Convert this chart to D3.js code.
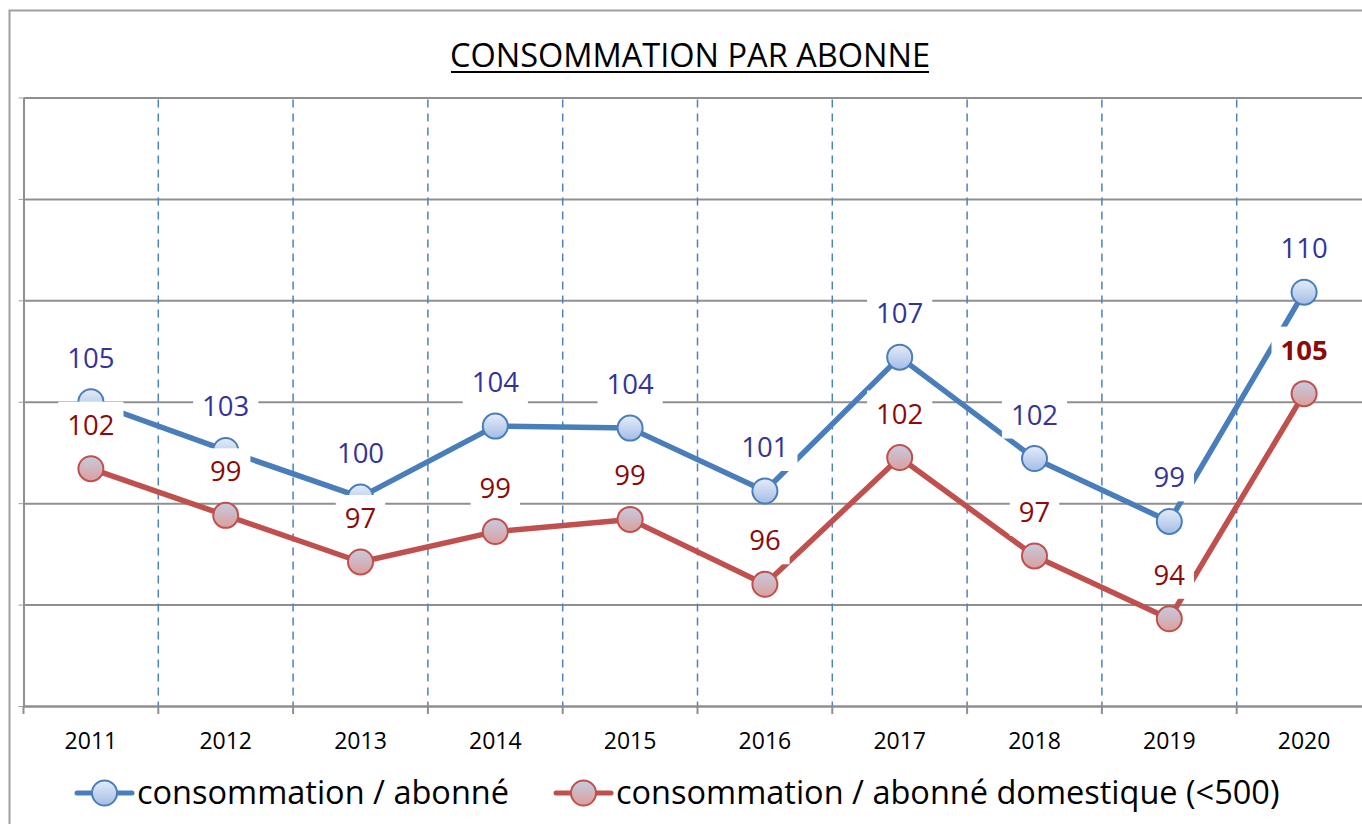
<!DOCTYPE html>
<html>
<head>
<meta charset="utf-8">
<title>Consommation par abonné</title>
<script src="https://cdn.jsdelivr.net/npm/d3@7"></script>
<style>
  body { margin: 0; background: #fff; }
  text { font-family: "Open Sans", sans-serif; }
</style>
</head>
<body>
<script>
// data (labels show the rounded value)
var years = ["2011", "2012", "2013", "2014", "2015", "2016", "2017", "2018", "2019", "2020"];
var consoAbonne = [105.0, 102.6, 100.3, 103.8, 103.7, 100.6, 107.2, 102.2, 99.1, 110.4];
var consoDomestique = [101.7, 99.4, 97.1, 98.6, 99.2, 96.0, 102.25, 97.4, 94.3, 105.4];
var yTicks = [90, 95, 100, 105, 110, 115, 120];
var seriesNames = ["consommation / abonné", "consommation / abonné domestique (<500)"];

var W = 1362, H = 824;
var plotL = 23.5, plotR = 1371.5, plotT = 97.5, plotB = 706;

var svg = d3.select("body").append("svg")
    .attr("width", W)
    .attr("height", H);

var defs = svg.append("defs");
function grad(id, c1, c2) {
  var g = defs.append("linearGradient").attr("id", id)
      .attr("x1", 0).attr("y1", 0).attr("x2", 0).attr("y2", 1);
  g.append("stop").attr("offset", "0%").attr("stop-color", c1);
  g.append("stop").attr("offset", "100%").attr("stop-color", c2);
}
grad("gBlue", "#e4ecf8", "#a3bde6");
grad("gRed", "#c6cbe0", "#dc9e9c");

var series = [
  { name: seriesNames[0], values: consoAbonne, line: "#4a7ebb", fill: "url(#gBlue)", label: "#33339a", bold: [] },
  { name: seriesNames[1], values: consoDomestique, line: "#c0504d", fill: "url(#gRed)", label: "#8b0a0a", bold: ["2020"] }
];

// outer frame of the chart
svg.append("rect")
    .attr("x", 9.5).attr("y", 10.5)
    .attr("width", 1400).attr("height", 900)
    .attr("fill", "none")
    .attr("stroke", "#a0a0a0")
    .attr("stroke-width", 2);

// title
svg.append("text")
    .attr("x", 690).attr("y", 67)
    .attr("text-anchor", "middle")
    .attr("font-size", 32.5)
    .attr("fill", "#000")
    .text("CONSOMMATION PAR ABONNE");
svg.append("line")
    .attr("x1", 451).attr("x2", 929)
    .attr("y1", 72).attr("y2", 72)
    .attr("stroke", "#000").attr("stroke-width", 2);

var x = d3.scaleBand().domain(years).range([plotL, plotR]);
var y = d3.scaleLinear().domain([90, 120]).range([plotB, plotT]);
function cx(d) { return x(d) + x.bandwidth() / 2; }

// horizontal gridlines
svg.append("g")
    .attr("transform", "translate(" + plotL + ",0)")
    .call(d3.axisLeft(y).tickValues(yTicks).tickSize(-(plotR - plotL)).tickFormat(""))
    .call(function(g) {
      g.select(".domain").remove();
      g.selectAll("line").attr("stroke", "#8f8f8f").attr("stroke-width", 2);
    });

// small ticks on the left
svg.append("g")
    .attr("transform", "translate(" + plotL + ",0)")
    .call(d3.axisLeft(y).tickValues(yTicks).tickSize(5).tickSizeOuter(0).tickFormat(""))
    .call(function(g) {
      g.select(".domain").attr("stroke", "#8f8f8f").attr("stroke-width", 2);
      g.selectAll("line").attr("stroke", "#a0a0a0").attr("stroke-width", 1);
    });

// vertical dashed separators between years
var bounds = years.slice(1).map(function(d) { return x(d); });
svg.append("g").selectAll("line")
  .data(bounds)
  .enter().append("line")
    .attr("x1", function(d) { return d; })
    .attr("x2", function(d) { return d; })
    .attr("y1", plotT + 2).attr("y2", plotB)
    .attr("stroke", "#4f81bd")
    .attr("stroke-width", 1.5)
    .attr("stroke-dasharray", "8,6");

// x axis
svg.append("g")
    .attr("transform", "translate(0," + plotB + ")")
    .call(d3.axisBottom(x).tickSize(0).tickPadding(0))
    .call(function(g) {
      g.select(".domain").attr("stroke", "#8f8f8f").attr("stroke-width", 2);
      g.selectAll("text")
        .attr("y", 43).attr("dy", null)
        .attr("font-size", 23)
        .attr("font-family", "Open Sans, sans-serif")
        .attr("fill", "#000");
    });
svg.append("g").selectAll("line")
  .data([plotL].concat(bounds))
  .enter().append("line")
    .attr("x1", function(d) { return d; })
    .attr("x2", function(d) { return d; })
    .attr("y1", plotB).attr("y2", plotB + 8)
    .attr("stroke", "#8f8f8f")
    .attr("stroke-width", 2);

// lines and markers
var line = d3.line()
    .x(function(d) { return cx(d.year); })
    .y(function(d) { return y(d.v); });

series.forEach(function(s) {
  var pts = years.map(function(yr, i) { return { year: yr, v: s.values[i] }; });
  var g = svg.append("g");
  g.append("path")
      .datum(pts)
      .attr("d", line)
      .attr("fill", "none")
      .attr("stroke", s.line)
      .attr("stroke-width", 5.5)
      .attr("stroke-linejoin", "round");
  g.selectAll("circle")
    .data(pts)
    .enter().append("circle")
      .attr("cx", function(d) { return cx(d.year); })
      .attr("cy", function(d) { return y(d.v); })
      .attr("r", 12.5)
      .attr("fill", s.fill)
      .attr("stroke", s.line)
      .attr("stroke-width", 2);
});

// data labels with white boxes
series.forEach(function(s) {
  years.forEach(function(yr, i) {
    var px = cx(yr), py = y(s.values[i]);
    var g = svg.append("g");
    var box = g.append("rect").attr("fill", "#fff");
    var t = g.append("text")
        .attr("x", px).attr("y", py - 34)
        .attr("text-anchor", "middle")
        .attr("font-size", 27.5)
        .attr("font-weight", s.bold.indexOf(yr) >= 0 ? "bold" : "normal")
        .attr("fill", s.label)
        .text(Math.round(s.values[i]));
    var w = t.node().getComputedTextLength() + 18;
    box.attr("x", px - w / 2).attr("y", py - 67)
       .attr("width", w).attr("height", 47);
  });
});

// legend
var legend = [
  { s: series[0], x0: 77 },
  { s: series[1], x0: 556 }
];
legend.forEach(function(l) {
  var g = svg.append("g").attr("transform", "translate(" + l.x0 + ",793)");
  g.append("line")
      .attr("x1", 0).attr("x2", 55)
      .attr("stroke", l.s.line).attr("stroke-width", 5)
      .attr("stroke-linecap", "round");
  g.append("circle")
      .attr("cx", 27.5).attr("r", 12.5)
      .attr("fill", l.s.fill)
      .attr("stroke", l.s.line).attr("stroke-width", 2);
  g.append("text")
      .attr("x", 60).attr("y", 11)
      .attr("font-size", 32.5)
      .attr("fill", "#000")
      .text(l.s.name);
});
</script>
</body>
</html>
